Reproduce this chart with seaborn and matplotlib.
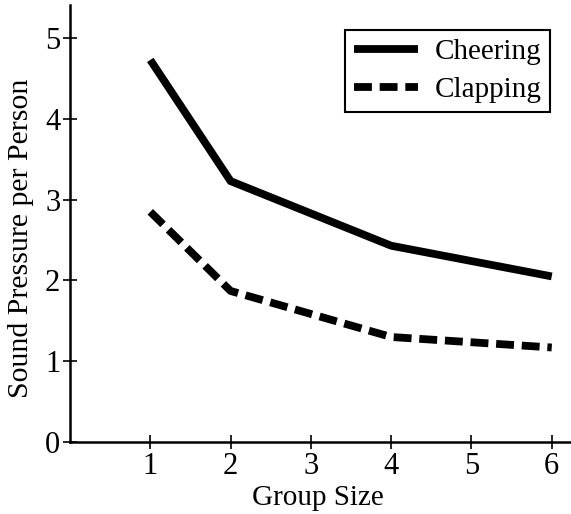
import matplotlib
matplotlib.use("Agg")
import matplotlib.pyplot as plt
import seaborn as sns
import pandas as pd

group_size = [1, 2, 4, 6]
cheering = [4.73, 3.23, 2.43, 2.05]
clapping = [2.85, 1.87, 1.30, 1.17]
series_names = ["Cheering", "Clapping"]

sns.set_style("ticks")
plt.rcParams['font.family'] = ['Liberation Serif', 'DejaVu Serif']
plt.rcParams['text.color'] = 'black'
plt.rcParams['axes.labelcolor'] = 'black'

df = pd.DataFrame({
    "Group Size": group_size * 2,
    "Sound": cheering + clapping,
    "Condition": [series_names[0]] * len(group_size) + [series_names[1]] * len(group_size),
})

fig = plt.figure(figsize=(5.71, 5.14), dpi=100)
ax = fig.add_axes([70/571, 72/514, 501/571, 437/514])
sns.lineplot(data=df, x="Group Size", y="Sound", style="Condition",
             dashes={"Cheering": "", "Clapping": (2.3, 1.0)},
             color="black", linewidth=5.6, ax=ax, legend=True,
             solid_capstyle="butt", dash_capstyle="butt", solid_joinstyle="miter")

ax.set_xlim(0, 6.24)
ax.set_ylim(0, 5.41)
ax.set_xticks([1, 2, 3, 4, 5, 6])
ax.set_yticks([0, 1, 2, 3, 4, 5])
ax.tick_params(direction="inout", length=10, width=1.2, labelsize=22, color="black", labelcolor="black", pad=2)
for s in ["top", "right"]:
    ax.spines[s].set_visible(False)
for s in ["left", "bottom"]:
    ax.spines[s].set_linewidth(1.8)
    ax.spines[s].set_color("black")
ax.set_xlabel("Group Size", fontsize=21, color="black")
ax.set_ylabel("Sound Pressure per Person", fontsize=21.5, color="black")
ax.xaxis.set_label_coords(0.495, -0.098)
ax.yaxis.set_label_coords(-0.072, 0.467)

leg = ax.legend(loc="upper right", bbox_to_anchor=(0.958, 0.943), fontsize=21,
                frameon=True, fancybox=False, edgecolor="black", framealpha=1,
                handlelength=2.2, borderpad=0.3, labelspacing=0.4, handletextpad=0.55,
                borderaxespad=0)
leg.get_frame().set_linewidth(1.5)
for t in leg.get_texts():
    t.set_color("black")

fig.savefig("out.png", dpi=100)
